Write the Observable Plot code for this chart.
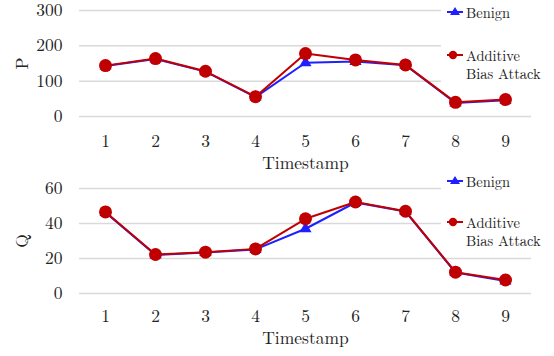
<!DOCTYPE html>
<html><head><meta charset="utf-8">
<script src="https://cdn.jsdelivr.net/npm/d3@7"></script>
<script src="https://cdn.jsdelivr.net/npm/@observablehq/plot@0.6"></script>
<style>
body{margin:0;background:#fff;}
#wrap{position:relative;width:554px;height:356px;overflow:hidden;}
#wrap, #wrap svg, #wrap svg text, .legend{font-family:'Latin Modern Roman','Liberation Serif',serif !important;}
.panel{position:relative;width:554px;}
.legend{position:absolute;left:441px;width:113px;background:#fff;color:#222;font-size:14.5px;line-height:18px;}
.item{position:absolute;left:5px;display:flex;align-items:flex-start;white-space:nowrap;}
.item svg{flex:none;margin-right:2px;}
</style></head>
<body><div id="wrap"></div>
<script>
const timestamps = [1,2,3,4,5,6,7,8,9];
const seriesNames = ["Benign","Additive Bias Attack"];
const pBenign = [143,163,127,55,152,156,145,38,46];
const pAttack = [144,164,128,56,178,160,146,40,48];
const qBenign = [46.3,22.0,23.4,25.2,37.0,52.0,46.8,12.0,7.2];
const qAttack = [46.6,22.3,23.6,25.5,42.7,52.3,47.0,12.2,7.7];
const pTicks = [0,100,200,300];
const qTicks = [0,20,40,60];
const blue = "#1f1fff", red = "#c00000";

function rows(vals){ return timestamps.map((t,i)=>({t, v: vals[i]})); }

function panel(benign, attack, yLabel, ticks, h, mb, tp, lo){
  const b = rows(benign), a = rows(attack);
  return Plot.plot({
    width:554, height:h, marginLeft:79, marginRight:23, marginTop:10, marginBottom:mb,
    style:{fontFamily:"'Latin Modern Roman', 'Liberation Serif', serif", fontSize:"17.5px", color:"#222", background:"white"},
    x:{type:"point", domain: timestamps, padding:0.5},
    y:{domain:[ticks[0], ticks[ticks.length-1]]},
    marks:[
      Plot.gridY(ticks,{stroke:"#d9d9d9", strokeOpacity:1, strokeWidth:1.5}),
      Plot.axisX({tickSize:0, tickPadding:tp, label:"Timestamp", labelAnchor:"center", labelOffset:lo, labelArrow:"none"}),
      Plot.axisY(ticks,{tickSize:0, tickPadding:17, label:yLabel, labelAnchor:"center", labelOffset:64, labelArrow:"none"}),
      Plot.line(b,{x:"t", y:"v", stroke:blue, strokeWidth:2}),
      Plot.dot(b,{x:"t", y:"v", symbol:"triangle", r:4.5, fill:blue, stroke:"none"}),
      Plot.line(a,{x:"t", y:"v", stroke:red, strokeWidth:2}),
      Plot.dot(a,{x:"t", y:"v", symbol:"circle", r:6.5, fill:red, stroke:"none"})
    ]
  });
}

function legend(top, height, positions){
  const div = document.createElement("div");
  div.className = "legend";
  div.style.top = top + "px";
  div.style.height = height + "px";
  const tri = `<svg width="18" height="18"><line x1="1" x2="17" y1="9" y2="9" stroke="${blue}" stroke-width="2"/><path d="M9,4L14,12L4,12Z" fill="${blue}"/></svg>`;
  const cir = `<svg width="18" height="18"><line x1="1" x2="17" y1="9" y2="9" stroke="${red}" stroke-width="2"/><circle cx="7" cy="9" r="4.2" fill="${red}"/></svg>`;
  div.innerHTML =
    `<div class="item" style="top:${positions[0]}px">${tri}<span>${seriesNames[0]}</span></div>` +
    `<div class="item" style="top:${positions[1]}px">${cir}<span>Additive<br>Bias Attack</span></div>`;
  return div;
}

const wrap = document.getElementById("wrap");
const p1 = document.createElement("div"); p1.className = "panel"; p1.style.height = "178px";
p1.appendChild(panel(pBenign, pAttack, "P", pTicks, 178, 62, 18, 52));
p1.appendChild(legend(0, 88, [2.7, 46]));
const p2 = document.createElement("div"); p2.className = "panel"; p2.style.height = "176px";
p2.appendChild(panel(qBenign, qAttack, "Q", qTicks, 176, 61, 16, 50));
p2.appendChild(legend(-8, 80, [1.7, 42.7]));
wrap.appendChild(p1); wrap.appendChild(p2);
</script></body></html>
